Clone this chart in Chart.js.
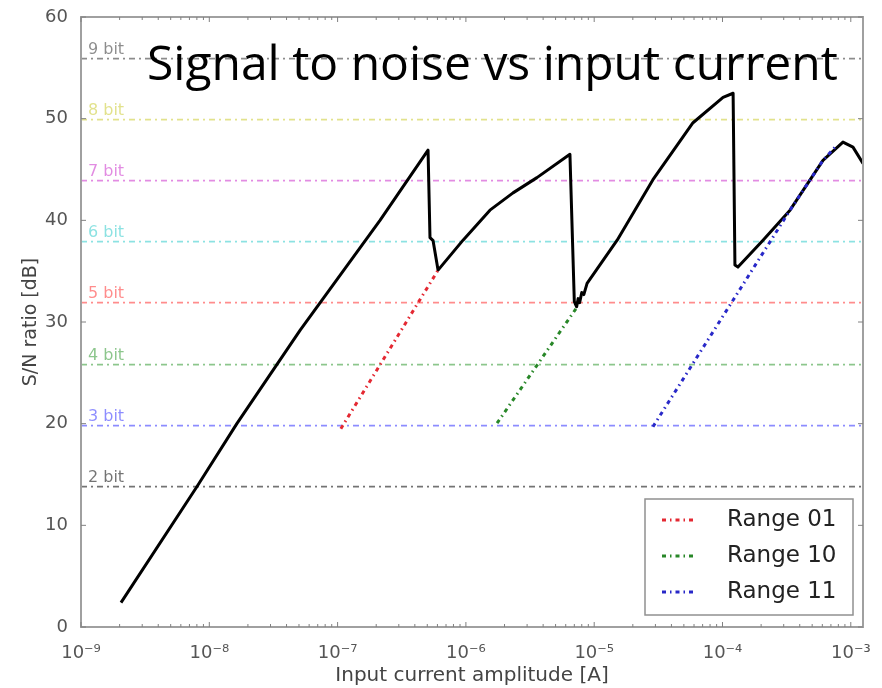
<!DOCTYPE html>
<html>
<head>
<meta charset="utf-8">
<script src="https://cdn.jsdelivr.net/npm/chart.js@4.4.0/dist/chart.umd.min.js"></script>
<style>
  html, body { margin: 0; padding: 0; background: #fff; }
  #wrap { width: 882px; height: 688px; }
</style>
</head>
<body>
<div id="wrap"><canvas id="snr" width="882" height="688"></canvas></div>
<script>
// axes
const xMin = 1e-9;
const xMax = 1.245e-3;
const yMin = 0;
const yMax = 60;
const xTickValues = [1e-9, 1e-8, 1e-7, 1e-6, 1e-5, 1e-4, 1e-3];
const xTickLabels = ["10⁻⁹", "10⁻⁸", "10⁻⁷", "10⁻⁶", "10⁻⁵", "10⁻⁴", "10⁻³"];
const yTickValues = [0, 10, 20, 30, 40, 50, 60];

const chartTitle = "Signal to noise vs input current";
const xTitle = "Input current amplitude [A]";
const yTitle = "S/N ratio [dB]";

// ideal ADC levels
const bitNames = ["2 bit", "3 bit", "4 bit", "5 bit", "6 bit", "7 bit", "8 bit", "9 bit"];
const bitLevels = [13.8, 19.8, 25.8, 31.9, 37.9, 43.9, 49.9, 55.9];
const bitColors = [
  "rgba(0,0,0,0.55)", "rgba(0,0,255,0.45)", "rgba(0,128,0,0.45)", "rgba(255,0,0,0.45)",
  "rgba(0,191,191,0.45)", "rgba(191,0,191,0.45)", "rgba(191,191,0,0.45)", "rgba(0,0,0,0.45)"
];

// measured S/N (black curve)
const snCurrent = [
  2.05e-9, 8.0e-9, 1.64e-8, 5.11e-8, 2.14e-7, 5.07e-7, 5.25e-7, 5.55e-7, 6.07e-7,
  9.5e-7, 1.54e-6, 2.33e-6, 3.58e-6, 6.47e-6, 7.0e-6, 7.3e-6, 7.5e-6, 7.7e-6, 8.0e-6, 8.3e-6,
  8.8e-6, 1.51e-5, 2.87e-5, 5.89e-5, 1.01e-4, 1.21e-4, 1.25e-4, 1.32e-4, 2.07e-4,
  3.36e-4, 6.07e-4, 8.69e-4, 1.04e-3, 1.245e-3
];
const snRatio = [
  2.4, 13.8, 20.0, 29.2, 40.0, 46.9, 38.3, 38.0, 35.1,
  38.05, 41.0, 42.7, 44.2, 46.5, 32.0, 31.5, 32.3, 31.9, 32.9, 32.7,
  33.8, 38.05, 44.0, 49.6, 52.1, 52.5, 35.6, 35.4, 38.05,
  41.0, 45.9, 47.7, 47.2, 45.6
];

// single range curves
const rangeNames = ["Range 01", "Range 10", "Range 11"];
const rangeColors = ["rgb(228,40,50)", "rgb(40,135,40)", "rgb(40,40,200)"];
const range01Current = [1.06e-7, 6.07e-7];
const range01Ratio = [19.5, 35.1];
const range10Current = [1.75e-6, 7.2e-6];
const range10Ratio = [20.05, 31.3];
const range11Current = [2.87e-5, 2.07e-4, 3.36e-4, 6.07e-4, 7.8e-4];
const range11Ratio = [19.7, 36.8, 41.0, 45.9, 47.4];

const pts = (xs, ys) => xs.map((x, i) => ({ x: x, y: ys[i] }));

const datasets = [];
bitNames.forEach((name, i) => {
  datasets.push({
    label: name,
    data: pts([xMin, xMax], [bitLevels[i], bitLevels[i]]),
    borderColor: bitColors[i],
    borderWidth: 1.8,
    borderDash: [6, 4, 2, 4],
    pointRadius: 0,
    showLine: true,
    order: 3,
    isBit: true
  });
});
datasets.push({
  label: "S/N",
  data: pts(snCurrent, snRatio),
  borderColor: "#000",
  borderWidth: 3,
  borderJoinStyle: "round",
  pointRadius: 0,
  showLine: true,
  order: 2
});
const rangeData = [
  [range01Current, range01Ratio],
  [range10Current, range10Ratio],
  [range11Current, range11Ratio]
];
rangeNames.forEach((name, k) => {
  datasets.push({
    label: name,
    data: pts(rangeData[k][0], rangeData[k][1]),
    borderColor: rangeColors[k],
    borderWidth: 3,
    borderDash: [4, 4, 1.5, 4],
    pointRadius: 0,
    showLine: true,
    order: 1,
    inLegend: true
  });
});

const overlay = {
  id: "overlay",
  afterDraw(chart) {
    const ctx = chart.ctx;
    const ca = chart.chartArea;
    const xs = chart.scales.x;
    const ys = chart.scales.y;
    ctx.save();

    // bit labels
    ctx.font = "16px 'DejaVu Sans'";
    ctx.textAlign = "left";
    ctx.textBaseline = "alphabetic";
    chart.data.datasets.forEach(ds => {
      if (!ds.isBit) return;
      ctx.fillStyle = ds.borderColor;
      ctx.fillText(ds.label, ca.left + 7, ys.getPixelForValue(ds.data[0].y) - 5);
    });

    // frame
    ctx.strokeStyle = "#a0a0a0";
    ctx.lineWidth = 2;
    ctx.strokeRect(ca.left, ca.top, ca.right - ca.left, ca.bottom - ca.top);

    // inward ticks
    ctx.strokeStyle = "#808080";
    ctx.lineWidth = 1;
    ctx.beginPath();
    xTickValues.forEach(v => {
      const px = xs.getPixelForValue(v);
      ctx.moveTo(px, ca.bottom); ctx.lineTo(px, ca.bottom - 5);
      ctx.moveTo(px, ca.top); ctx.lineTo(px, ca.top + 5);
      for (let m = 2; m <= 9; m++) {
        if (v * m > xMax) break;
        const mp = xs.getPixelForValue(v * m);
        ctx.moveTo(mp, ca.bottom); ctx.lineTo(mp, ca.bottom - 3);
        ctx.moveTo(mp, ca.top); ctx.lineTo(mp, ca.top + 3);
      }
    });
    yTickValues.forEach(v => {
      const py = ys.getPixelForValue(v);
      ctx.moveTo(ca.left, py); ctx.lineTo(ca.left + 5, py);
      ctx.moveTo(ca.right, py); ctx.lineTo(ca.right - 5, py);
    });
    ctx.stroke();

    // overlaid title
    ctx.fillStyle = "#000";
    ctx.font = "48px 'Open Sans'";
    ctx.textAlign = "left";
    ctx.textBaseline = "alphabetic";
    ctx.fillText(chartTitle, 147, 80);

    // legend box
    const bw = 208, bh = 116;
    const bx = ca.right - 10 - bw;
    const by = ca.bottom - 12 - bh;
    ctx.fillStyle = "#fff";
    ctx.fillRect(bx, by, bw, bh);
    ctx.strokeStyle = "#909090";
    ctx.lineWidth = 1.5;
    ctx.strokeRect(bx, by, bw, bh);
    ctx.font = "23px 'DejaVu Sans'";
    ctx.textBaseline = "middle";
    let row = 0;
    chart.data.datasets.forEach(ds => {
      if (!ds.inLegend) return;
      const cy = by + 21 + row * 36;
      ctx.strokeStyle = ds.borderColor;
      ctx.lineWidth = ds.borderWidth;
      ctx.setLineDash(ds.borderDash);
      ctx.beginPath();
      ctx.moveTo(bx + 17, cy);
      ctx.lineTo(bx + 50, cy);
      ctx.stroke();
      ctx.setLineDash([]);
      ctx.fillStyle = "#222";
      ctx.fillText(ds.label, bx + 82, cy);
      row++;
    });
    ctx.restore();
  }
};

new Chart(document.getElementById("snr"), {
  type: "scatter",
  data: { datasets: datasets },
  options: {
    responsive: false,
    animation: false,
    devicePixelRatio: 1,
    layout: { padding: { top: 17, right: 19, left: 0, bottom: 0 } },
    plugins: { legend: { display: false }, tooltip: { enabled: false } },
    scales: {
      x: {
        type: "logarithmic",
        min: xMin,
        max: xMax,
        grid: { display: false },
        border: { display: false },
        afterBuildTicks: s => { s.ticks = xTickValues.map(v => ({ value: v })); },
        afterFit: s => { s.height = 61; },
        ticks: {
          autoSkip: false,
          maxRotation: 0,
          padding: 8,
          color: "#555",
          font: { family: "DejaVu Sans", size: 18 },
          callback: v => {
            const i = xTickValues.findIndex(t => Math.abs(Math.log10(t) - Math.log10(v)) < 1e-6);
            return i >= 0 ? xTickLabels[i] : "";
          }
        },
        title: {
          display: true,
          text: xTitle,
          color: "#444",
          font: { family: "DejaVu Sans", size: 20 },
          padding: { top: 0, bottom: 0 }
        }
      },
      y: {
        min: yMin,
        max: yMax,
        grid: { display: false },
        border: { display: false },
        afterBuildTicks: s => { s.ticks = yTickValues.map(v => ({ value: v })); },
        afterFit: s => { s.width = 81; },
        ticks: {
          padding: 5,
          color: "#555",
          font: { family: "DejaVu Sans", size: 18 }
        },
        title: {
          display: true,
          text: yTitle,
          color: "#444",
          font: { family: "DejaVu Sans", size: 19 },
          padding: { top: 20, bottom: 0 }
        }
      }
    }
  },
  plugins: [overlay]
});
</script>
</body>
</html>
